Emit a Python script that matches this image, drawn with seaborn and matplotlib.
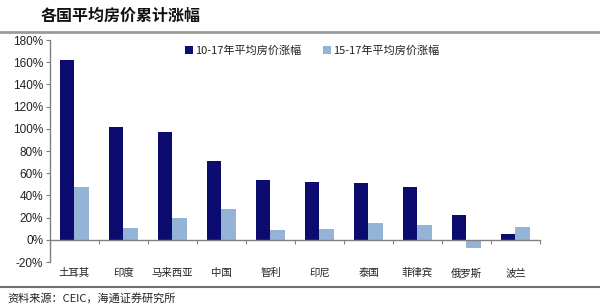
import matplotlib
matplotlib.use("Agg")
import matplotlib.pyplot as plt
import seaborn as sns
import pandas as pd
from matplotlib.lines import Line2D
from matplotlib.ticker import FuncFormatter, FixedLocator

countries = ["土耳其", "印度", "马来西亚", "中国", "智利", "印尼", "泰国", "菲律宾", "俄罗斯", "波兰"]
series_names = ["10-17年平均房价涨幅", "15-17年平均房价涨幅"]
rise_10_17 = [162, 102, 97, 71, 54, 52, 51, 48, 22.5, 5]
rise_15_17 = [48, 11, 20, 28, 9, 10, 15, 13, -7.5, 12]
yticks = [-20, 0, 20, 40, 60, 80, 100, 120, 140, 160, 180]

df = pd.DataFrame({
    "country": countries * 2,
    "series": [series_names[0]] * len(countries) + [series_names[1]] * len(countries),
    "value": rise_10_17 + rise_15_17,
})

sns.set_theme(style="white")
cjk = ["Noto Sans CJK SC", "DejaVu Sans"]
plt.rcParams["font.family"] = cjk

fig = plt.figure(figsize=(6, 3.08), dpi=100)
ax = fig.add_axes([0.0833, 0.149, 0.8167, 0.721])

colors = ["#0c0c70", "#95b3d7"]
sns.barplot(data=df, x="country", y="value", hue="series", palette=colors,
            width=0.58, gap=0, saturation=1, ax=ax, legend=True, linewidth=0)

ax.set_xlim(-0.5, len(countries) - 0.5)
ax.set_ylim(-20, 180)
ax.set_yticks(yticks)
ax.yaxis.set_major_formatter(FuncFormatter(lambda v, p: f"{v:.0f}%"))
for lab in ax.get_yticklabels():
    lab.set_fontfamily(["Liberation Sans", "DejaVu Sans"])
    lab.set_fontsize(8.5)
    lab.set_color("#222222")
ax.tick_params(axis="y", direction="out", length=3, width=0.8, color="#808080", pad=2, left=True)

ax.set_xlabel("")
ax.set_ylabel("")
for s in ["top", "right"]:
    ax.spines[s].set_visible(False)
ax.spines["left"].set_color("#808080")
ax.spines["left"].set_linewidth(1.0)
ax.spines["bottom"].set_position(("data", 0))
ax.spines["bottom"].set_color("#808080")
ax.spines["bottom"].set_linewidth(1.0)

ax.set_xticks(range(len(countries)))
ax.set_xticklabels([])
ax.tick_params(axis="x", which="major", length=0)
ax.xaxis.set_minor_locator(FixedLocator([i + 0.5 for i in range(len(countries))]))
ax.tick_params(axis="x", which="minor", direction="out", length=3, width=0.8, color="#808080", bottom=True)

trans = ax.get_xaxis_transform()
for i, c in enumerate(countries):
    ax.text(i, -0.05, c, transform=trans, ha="center", va="center", fontsize=7.5,
            color="#222222", family=cjk)

leg = ax.legend(loc="upper center", bbox_to_anchor=(0.535, 1.0), ncol=2, frameon=False,
                fontsize=8, handlelength=0.7, handleheight=0.7, handletextpad=0.2,
                columnspacing=2.0, borderaxespad=0.1)
for t in leg.get_texts():
    t.set_color("#222222")

fig.text(0.067, 0.948, "各国平均房价累计涨幅", fontsize=11.5, fontweight="bold",
         ha="left", va="center", color="#111111", family=cjk)
fig.add_artist(Line2D([0, 1], [0.897, 0.897], transform=fig.transFigure, color="#9a9a9a", lw=2))
fig.add_artist(Line2D([0, 1], [0.068, 0.068], transform=fig.transFigure, color="#707070", lw=1.5))
fig.text(0.013, 0.032, "资料来源：CEIC，海通证券研究所", fontsize=8, ha="left", va="center",
         color="#222222", family=cjk)

fig.savefig("out.png", dpi=100, facecolor="white")
